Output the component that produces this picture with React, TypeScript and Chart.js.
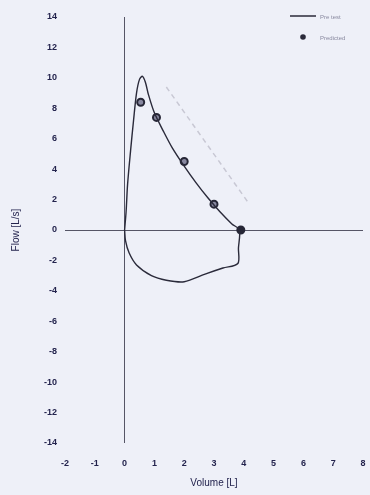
import React, { useEffect, useRef } from "react";
import { Chart, registerables } from "chart.js";

Chart.register(...registerables);

// Measured flow-volume loop (Volume L, Flow L/s)
const loopVolume = [0, 0.05, 0.1, 0.2, 0.3, 0.4, 0.5, 0.6, 0.7, 0.8, 1.0, 1.3, 1.6, 2.0, 2.4, 2.8, 3.2, 3.6, 3.85, 3.82, 3.8, 3.3, 2.7, 2.0, 1.4, 0.9, 0.4, 0.15, 0.03, 0];
const loopFlow = [0, 1.2, 3.0, 5.2, 7.2, 9.0, 9.9, 10.1, 9.7, 8.9, 7.7, 6.5, 5.4, 4.2, 3.1, 2.1, 1.2, 0.4, 0, -1.2, -2.2, -2.5, -2.9, -3.4, -3.3, -3.0, -2.3, -1.5, -0.7, 0];

// Predicted points
const predVolume = [0.54, 1.07, 2.0, 3.0, 3.9];
const predFlow = [8.4, 7.4, 4.5, 1.7, 0];

// Dashed reference line
const refVolume = [1.4, 4.15];
const refFlow = [9.4, 1.8];

const xTicks = { min: -2, max: 8, step: 1 };
const yTicks = { min: -14, max: 14, step: 2 };

const seriesLabels = ["Pre test", "Predicted"];
const xTitle = "Volume [L]";
const yTitle = "Flow [L/s]";

const TEXT = "#23234d";
const FONT = "'Liberation Sans', Arial, sans-serif";

const legendPlugin = {
  id: "customLegend",
  afterDraw(chart: any) {
    const ctx = chart.ctx;
    ctx.save();
    ctx.font = "6px " + FONT;
    ctx.textBaseline = "middle";
    ctx.textAlign = "left";
    ctx.strokeStyle = "#2a2a3a";
    ctx.lineWidth = 1.5;
    ctx.beginPath();
    ctx.moveTo(290, 16);
    ctx.lineTo(316, 16);
    ctx.stroke();
    ctx.fillStyle = "#8a8aa0";
    ctx.fillText(seriesLabels[0], 320, 17);
    ctx.fillStyle = "#2a2a3a";
    ctx.beginPath();
    ctx.arc(303, 37, 2.8, 0, Math.PI * 2);
    ctx.fill();
    ctx.fillStyle = "#8a8aa0";
    ctx.fillText(seriesLabels[1], 320, 38);
    ctx.restore();
  },
};

export default function App() {
  const ref = useRef<HTMLCanvasElement>(null);
  useEffect(() => {
    document.body.style.margin = "0";
    document.body.style.background = "#eef0f8";
    const zeroColor = (c: any) => (c.tick && c.tick.value === 0 ? "#555566" : "transparent");
    const chart = new Chart(ref.current!, {
      type: "scatter",
      data: {
        datasets: [
          {
            label: "ref",
            data: refVolume.map((x, i) => ({ x, y: refFlow[i] })),
            showLine: true,
            borderColor: "#c8c8d4",
            borderWidth: 1.5,
            borderDash: [5, 4],
            pointRadius: 0,
          },
          {
            label: seriesLabels[0],
            data: loopVolume.map((x, i) => ({ x, y: loopFlow[i] })),
            showLine: true,
            borderColor: "#2a2a3a",
            borderWidth: 1.4,
            tension: 0.3,
            pointRadius: 0,
          },
          {
            label: seriesLabels[1],
            data: predVolume.map((x, i) => ({ x, y: predFlow[i] })),
            showLine: false,
            pointRadius: 3.5,
            pointBorderWidth: 2,
            pointBorderColor: "#262636",
            pointBackgroundColor: predVolume.map((_, i) => (i === predVolume.length - 1 ? "#262636" : "#8888a0")),
          },
        ],
      },
      options: {
        animation: false,
        responsive: false,
        maintainAspectRatio: false,
        layout: { padding: { left: 0, right: 7, top: 17, bottom: 0 } },
        plugins: { legend: { display: false }, tooltip: { enabled: false } },
        scales: {
          x: {
            type: "linear",
            min: xTicks.min,
            max: xTicks.max,
            afterFit: (s: any) => {
              s.height = 52;
              s.paddingLeft = 0;
              s.paddingRight = 0;
            },
            border: { display: false },
            grid: { drawTicks: false, color: zeroColor, lineWidth: 1 },
            ticks: {
              stepSize: xTicks.step,
              padding: 15,
              color: TEXT,
              font: { family: FONT, size: 9, weight: "bold" },
            },
            title: {
              display: true,
              text: xTitle,
              color: TEXT,
              padding: { top: 0, bottom: 6 },
              font: { family: FONT, size: 10 },
            },
          },
          y: {
            type: "linear",
            min: yTicks.min,
            max: yTicks.max,
            afterFit: (s: any) => {
              s.width = 65;
              s.paddingTop = 0;
              s.paddingBottom = 0;
            },
            border: { display: false },
            grid: { drawTicks: false, color: zeroColor, lineWidth: 1 },
            ticks: {
              stepSize: yTicks.step,
              padding: 8,
              color: TEXT,
              font: { family: FONT, size: 9, weight: "bold" },
            },
            title: {
              display: true,
              text: yTitle,
              color: TEXT,
              padding: { top: 10, bottom: 4 },
              font: { family: FONT, size: 10 },
            },
          },
        },
      },
      plugins: [legendPlugin],
    } as any);
    return () => chart.destroy();
  }, []);
  return (
    <div style={{ position: "fixed", left: 0, top: 0, width: 370, height: 495, background: "#eef0f8" }}>
      <canvas ref={ref} width={370} height={495} style={{ width: 370, height: 495, display: "block" }} />
    </div>
  );
}
